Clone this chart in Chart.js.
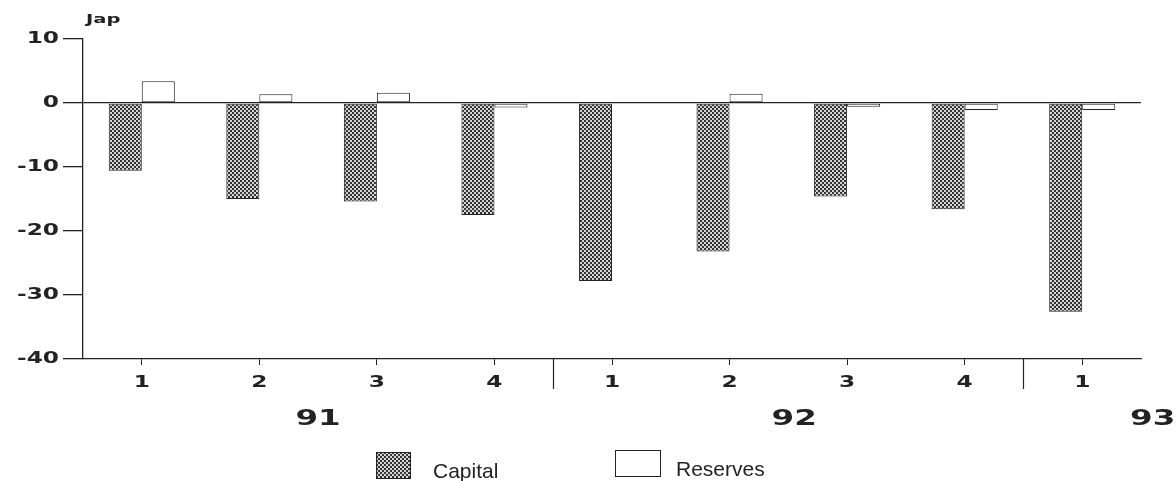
<!DOCTYPE html>
<html><head><meta charset="utf-8">
<script src="https://cdn.jsdelivr.net/npm/chart.js@4.4.1/dist/chart.umd.min.js"></script>
<style>html,body{margin:0;padding:0;background:#fff}#wrap{width:1176px;height:481px;position:relative}</style>
</head><body><div id="wrap"><canvas id="c" width="1176" height="481"></canvas></div>
<script>
const quarters = ['1','2','3','4','1','2','3','4','1'];
const years = ['91','92','93'];
const capital = [-10.6, -15.0, -15.4, -17.5, -27.8, -23.2, -14.6, -16.6, -32.6];
const reserves = [3.4, 1.35, 1.6, -0.7, 0.0, 1.45, -0.6, -1.1, -1.1];
const yTicks = [10, 0, -10, -20, -30, -40];
const unitLabel = 'Jap';
const seriesNames = ['Capital', 'Reserves'];

function makePattern(){
  const c = document.createElement('canvas'); c.width = 4; c.height = 4;
  const g = c.getContext('2d');
  g.fillStyle = '#d4d4d4'; g.fillRect(0,0,4,4);
  g.fillStyle = '#333'; g.fillRect(0,0,2,2); g.fillRect(2,2,2,2);
  return g.createPattern(c, 'repeat');
}
const ctx0 = document.getElementById('c').getContext('2d');
const pat = makePattern();
const INK = '#222';
const SX = 1.55;

const stretchPlugin = {
  id: 'stretch',
  beforeDraw(chart){
    const ctx = chart.ctx;
    if (!ctx._origFill) ctx._origFill = ctx.fillText;
    const orig = ctx._origFill;
    ctx.fillText = function(t, x, y){
      this.save(); this.translate(x, y); this.scale(SX, 1); orig.call(this, t, 0, 0); this.restore();
    };
  },
  afterDraw(chart){
    const ctx = chart.ctx;
    ctx.fillText = ctx._origFill;
    const xs = chart.scales.x;
    const bottom = chart.chartArea.bottom;
    ctx.save();
    ctx.strokeStyle = INK; ctx.lineWidth = 1.2;
    [3, 7].forEach(i => {
      const px = Math.round((xs.getPixelForValue(i) + xs.getPixelForValue(i+1)) / 2) + 0.5;
      ctx.beginPath(); ctx.moveTo(px, bottom); ctx.lineTo(px, bottom + 30); ctx.stroke();
    });
    // year labels
    const yearPos = [1.5, 5.55, 8.6];
    ctx.fillStyle = INK; ctx.font = 'bold 21px "DejaVu Sans"'; ctx.textAlign = 'center'; ctx.textBaseline = 'middle';
    years.forEach((yv, k) => {
      const p = xs.getPixelForValue(Math.floor(yearPos[k])) + (yearPos[k] % 1) * (xs.getPixelForValue(1) - xs.getPixelForValue(0));
      ctx.save(); ctx.translate(p, 420); ctx.scale(SX, 1); ctx.fillText(yv, 0, 0); ctx.restore();
    });
    // unit label
    ctx.font = 'bold 13px "DejaVu Sans"'; ctx.textAlign = 'left';
    ctx.save(); ctx.translate(86, 20); ctx.scale(1.5, 1); ctx.fillText(unitLabel, 0, 0); ctx.restore();
    // legend
    ctx.lineWidth = 1;
    ctx.fillStyle = pat; ctx.fillRect(376, 452, 34, 26);
    ctx.strokeStyle = INK; ctx.strokeRect(376.5, 452.5, 34, 26);
    ctx.fillStyle = '#fff'; ctx.fillRect(615, 450, 45, 26); ctx.strokeRect(615.5, 450.5, 45, 26);
    ctx.fillStyle = INK; ctx.font = '21px "Liberation Sans Narrow", "Liberation Sans"'; ctx.textBaseline = 'alphabetic';
    ctx.fillText(seriesNames[0], 433, 478);
    ctx.fillText(seriesNames[1], 676, 476);
    ctx.restore();
  }
};

new Chart(ctx0, {
  type: 'bar',
  data: {
    labels: quarters,
    datasets: [
      { label: seriesNames[0], data: capital, backgroundColor: pat, borderColor: INK, borderWidth: 1, borderSkipped: false,
        barPercentage: 1, categoryPercentage: 0.562 },
      { label: seriesNames[1], data: reserves, backgroundColor: '#fff', borderColor: INK, borderWidth: 1, borderSkipped: false,
        barPercentage: 1, categoryPercentage: 0.562 }
    ]
  },
  options: {
    responsive: false, animation: false, devicePixelRatio: 1,
    layout: { padding: { top: 39, right: 35, left: 0, bottom: 0 } },
    plugins: { legend: { display: false }, tooltip: { enabled: false } },
    scales: {
      y: {
        min: -40, max: 10,
        afterBuildTicks(s){ s.ticks = yTicks.map(v => ({ value: v })); },
        afterFit(s){ s.width = 83; },
        border: { display: true, color: INK, width: 1.3 },
        grid: { drawOnChartArea: true, tickLength: 20, tickWidth: 1.3, tickColor: INK,
                color: c => (c.tick && c.tick.value === 0) ? INK : 'rgba(0,0,0,0)', lineWidth: 1.3 },
        ticks: { color: INK, font: { family: 'DejaVu Sans', weight: 'bold', size: 15 }, padding: 4 }
      },
      x: {
        afterFit(s){ s.height = 122; },
        border: { display: true, color: INK, width: 1.3 },
        grid: { offset: false, drawOnChartArea: false, tickLength: 6, tickColor: INK, tickWidth: 1 },
        ticks: { color: INK, font: { family: 'DejaVu Sans', weight: 'bold', size: 15 }, padding: 9, maxRotation: 0 }
      }
    }
  },
  plugins: [stretchPlugin]
});
</script></body></html>
